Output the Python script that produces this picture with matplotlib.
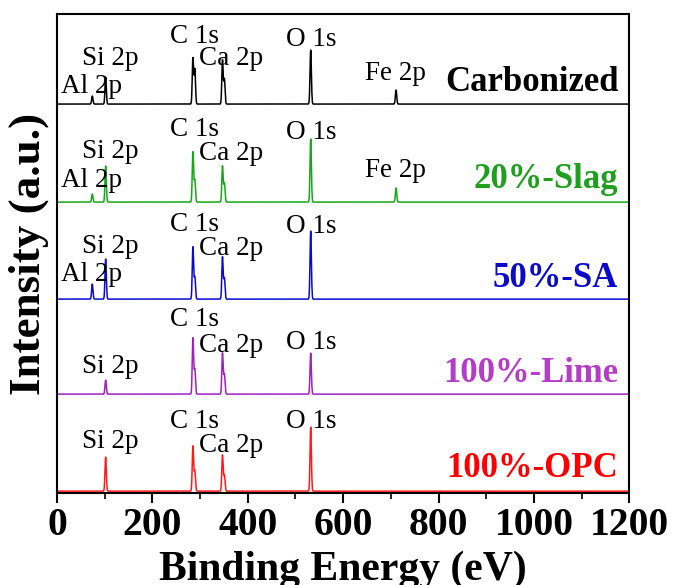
import numpy as np
import matplotlib
matplotlib.use('Agg')
import matplotlib.pyplot as plt
from matplotlib.ticker import MultipleLocator

plt.rcParams['font.family'] = ['Liberation Serif', 'DejaVu Serif']

# XPS survey data: peak centres (eV) and peak heights for each sample
samples = ['Carbonized', '20%-Slag', '50%-SA', '100%-Lime', '100%-OPC']
peak_names = ['Al 2p', 'Si 2p', 'C 1s', 'C 1s b', 'Ca 2p', 'Ca 2p b', 'O 1s', 'Fe 2p']
peak_ev = [74, 102, 285, 289, 347, 351, 532, 711]
h_carbonized = [8, 27, 46, 35, 44, 25, 54, 14]
h_slag = [8, 36, 50, 22, 36, 19, 63, 14]
h_sa = [15, 40, 52, 22, 42, 21, 68, 0]
h_lime = [0, 14, 56, 25, 41, 20, 41, 0]
h_opc = [0, 34, 45, 20, 36, 16, 64, 0]
heights = [h_carbonized, h_slag, h_sa, h_lime, h_opc]

# which peaks get a label on each spectrum
labelled = [
    ['Al 2p', 'Si 2p', 'C 1s', 'Ca 2p', 'O 1s', 'Fe 2p'],
    ['Al 2p', 'Si 2p', 'C 1s', 'Ca 2p', 'O 1s', 'Fe 2p'],
    ['Al 2p', 'Si 2p', 'C 1s', 'Ca 2p', 'O 1s'],
    ['Si 2p', 'C 1s', 'Ca 2p', 'O 1s'],
    ['Si 2p', 'C 1s', 'Ca 2p', 'O 1s'],
]

# layout
offsets = [387, 289, 192, 97, 0]
line_colors = ['black', '#14a814', '#0a0ad2', '#a020c0', '#ff1a1a']
name_colors = ['black', '#1ea01e', '#0a0ac8', '#b43cc8', '#ff0000']
label_x = {'Al 2p': 73, 'Si 2p': 111, 'C 1s': 288, 'Ca 2p': 364, 'O 1s': 534, 'Fe 2p': 710}
label_y = [
    {'Al 2p': 11, 'Si 2p': 39, 'C 1s': 61, 'Ca 2p': 39, 'O 1s': 58, 'Fe 2p': 24},
    {'Al 2p': 15, 'Si 2p': 44, 'C 1s': 66, 'Ca 2p': 42, 'O 1s': 63, 'Fe 2p': 25},
    {'Al 2p': 18, 'Si 2p': 46, 'C 1s': 68, 'Ca 2p': 44, 'O 1s': 66},
    {'Si 2p': 21, 'C 1s': 68, 'Ca 2p': 42, 'O 1s': 45},
    {'Si 2p': 43, 'C 1s': 63, 'Ca 2p': 39, 'O 1s': 63},
]
name_y = [13, 14, 12, 12, 14]

energy = np.arange(0, 1200.01, 0.5)
sigma = 1.4

fig = plt.figure(figsize=(6.74, 5.85), dpi=100)
ax = fig.add_axes([0.0846, 0.157, 0.849, 0.819])

for i in range(len(samples)):
    spec = np.zeros_like(energy)
    for e, h in zip(peak_ev, heights[i]):
        spec += h * np.exp(-(energy - e) ** 2 / (2 * sigma ** 2))
    ax.plot(energy, spec + offsets[i], color=line_colors[i], lw=1.1)
    for name in labelled[i]:
        ax.text(label_x[name], offsets[i] + label_y[i][name], name,
                ha='center', va='baseline', fontsize=19.5)
    ax.text(1177, offsets[i] + name_y[i], samples[i], ha='right', va='baseline',
            fontsize=25, fontweight='bold', color=name_colors[i])

ax.set_xlim(0, 1200)
ax.set_ylim(-2, 477)
ax.xaxis.set_major_locator(MultipleLocator(200))
ax.xaxis.set_minor_locator(MultipleLocator(100))
ax.set_yticks([])
ax.tick_params(axis='x', which='major', direction='out', length=7, width=1.5,
               labelsize=28.5, pad=3)
ax.tick_params(axis='x', which='minor', direction='out', length=4, width=1.2)
for lab in ax.get_xticklabels():
    lab.set_fontweight('bold')
for sp in ax.spines.values():
    sp.set_linewidth(1.5)

ax.set_xlabel('Binding Energy (eV)', fontsize=30, fontweight='bold', labelpad=5)
ax.set_ylabel('Intensity (a.u.)', fontsize=32.5, fontweight='bold', labelpad=6)

fig.savefig('out.png', dpi=100)
